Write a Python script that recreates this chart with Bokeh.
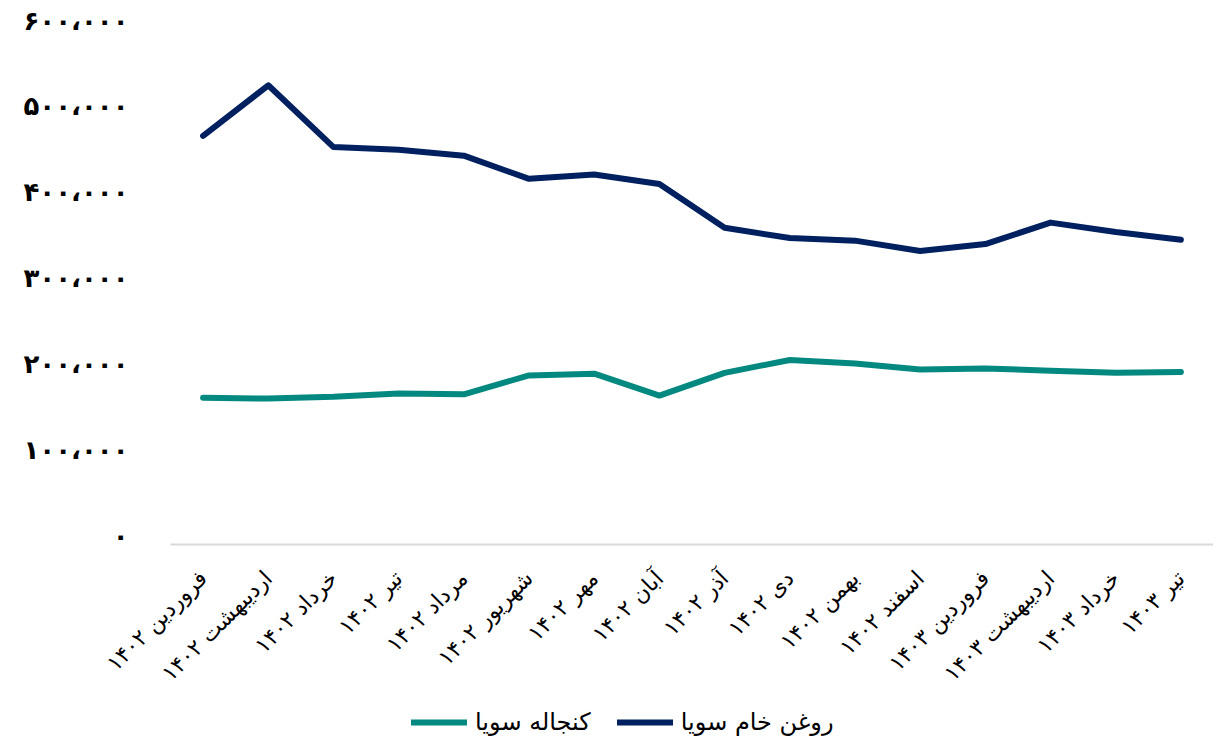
from math import pi
from bokeh.plotting import figure
from bokeh.layouts import column
from bokeh.models import FactorRange, Range1d, FixedTicker, Legend, LegendItem
from bokeh.embed import file_html
from bokeh.resources import INLINE

months = ["فروردین ۱۴۰۲", "اردیبهشت ۱۴۰۲", "خرداد ۱۴۰۲", "تیر ۱۴۰۲",
          "مرداد ۱۴۰۲", "شهریور ۱۴۰۲", "مهر ۱۴۰۲", "آبان ۱۴۰۲",
          "آذر ۱۴۰۲", "دی ۱۴۰۲", "بهمن ۱۴۰۲", "اسفند ۱۴۰۲",
          "فروردین ۱۴۰۳", "اردیبهشت ۱۴۰۳", "خرداد ۱۴۰۳", "تیر ۱۴۰۳"]

soy_oil = [476000, 535000, 463000, 460000, 453000, 426000, 431000, 420000,
           369000, 357000, 354000, 342000, 350000, 375000, 364000, 355000]
soy_meal = [171000, 170000, 172000, 176000, 175000, 197000, 199000, 173500,
            200000, 215000, 211000, 204000, 205000, 202500, 200000, 201000]

soy_oil_name = "روغن خام سویا"
soy_meal_name = "کنجاله سویا"

y_ticks = [0, 100000, 200000, 300000, 400000, 500000, 600000]

OIL_COLOR = "#002060"
MEAL_COLOR = "#03897F"

PERSIAN = str.maketrans("0123456789,", "۰۱۲۳۴۵۶۷۸۹\u060c")


def fa(v):
    return f"{v:,}".translate(PERSIAN)


p = figure(width=1213, height=704, x_range=FactorRange(*months, range_padding=0),
           y_range=Range1d(0, 600000), output_backend="svg", toolbar_location=None,
           min_border_left=170, min_border_top=29, min_border_right=0, min_border_bottom=160)
p.outline_line_color = None
p.xgrid.visible = False
p.ygrid.visible = False

p.line(months, soy_oil, line_color=OIL_COLOR, line_width=6,
       line_cap="round", line_join="round")
p.line(months, soy_meal, line_color=MEAL_COLOR, line_width=6,
       line_cap="round", line_join="round")

p.yaxis.ticker = FixedTicker(ticks=y_ticks)
p.yaxis.major_label_overrides = {t: fa(t) + "\n " for t in y_ticks}
p.yaxis.axis_line_color = None
p.yaxis.major_tick_line_color = None
p.yaxis.minor_tick_line_color = None
p.yaxis.major_label_text_font = "DejaVu Sans"
p.yaxis.major_label_text_font_style = "bold"
p.yaxis.major_label_text_font_size = "26px"
p.yaxis.major_label_text_color = "#000000"
p.yaxis.major_label_text_line_height = 0.6
p.yaxis.major_label_standoff = 36

p.xaxis.axis_line_color = "#D9D9D9"
p.xaxis.axis_line_width = 2
p.xaxis.major_tick_line_color = None
p.xaxis.minor_tick_line_color = None
p.xaxis.major_label_orientation = pi / 4
p.xaxis.major_label_text_font = "DejaVu Sans"
p.xaxis.major_label_text_font_size = "22px"
p.xaxis.major_label_text_color = "#000000"
p.xaxis.major_label_standoff = 24

# legend strip below the chart (handles drawn outside its visible range)
lg = figure(width=1213, height=34, x_range=Range1d(0, 1), y_range=Range1d(0, 1),
            x_axis_type=None, y_axis_type=None,
            output_backend="svg", toolbar_location=None,
            min_border_left=0, min_border_right=0, min_border_top=0, min_border_bottom=0)
lg.grid.visible = False
lg.outline_line_color = None
l_meal = lg.line([5, 6], [5, 5], line_color=MEAL_COLOR, line_width=6, line_cap="round")
l_oil = lg.line([5, 6], [5, 5], line_color=OIL_COLOR, line_width=6, line_cap="round")

legend = Legend(items=[LegendItem(label=soy_meal_name, renderers=[l_meal]),
                       LegendItem(label=soy_oil_name, renderers=[l_oil])],
                orientation="horizontal", location=(241, 2), margin=0,
                border_line_color=None, background_fill_alpha=0,
                label_text_font="DejaVu Sans", label_text_font_size="24px",
                label_text_color="#000000", glyph_width=56, glyph_height=26,
                spacing=26, padding=2, label_standoff=8)
lg.add_layout(legend, "center")

layout = column(p, lg, spacing=0)
open("out.html", "w").write(file_html(layout, INLINE))
